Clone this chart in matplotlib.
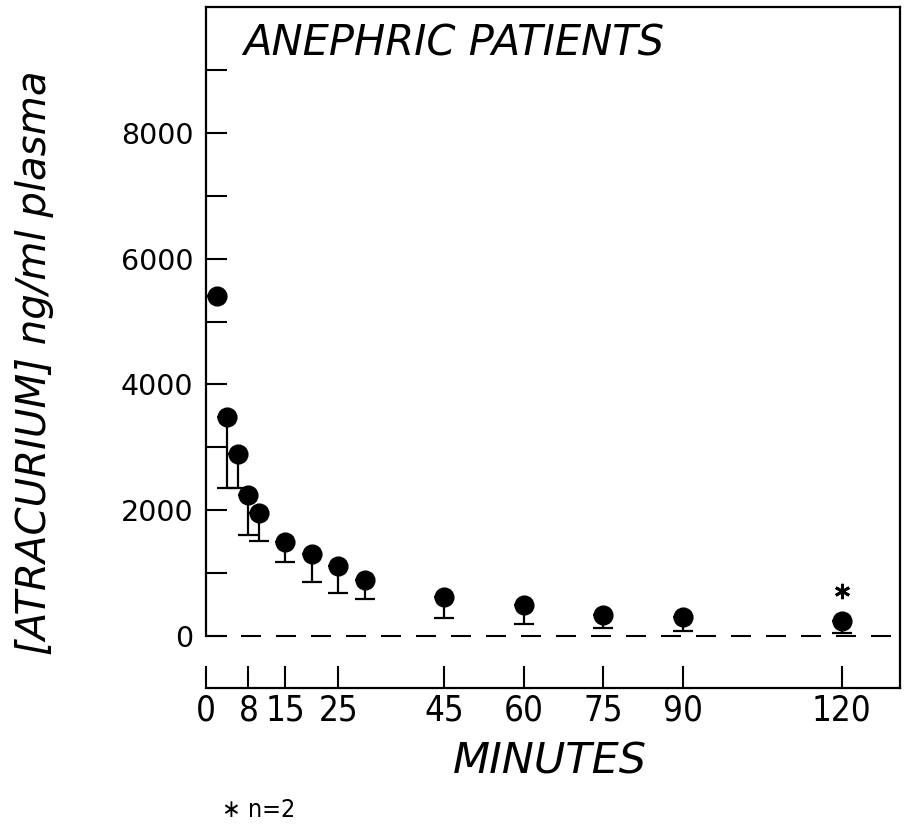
import matplotlib
matplotlib.use("Agg")
import matplotlib.pyplot as plt

# data
minutes = [2, 4, 6, 8, 10, 15, 20, 25, 30, 45, 60, 75, 90, 120]
conc_mean = [5400, 3480, 2900, 2240, 1950, 1500, 1300, 1110, 890, 620, 490, 330, 300, 240]
conc_low = [5400, 2350, 2350, 1600, 1510, 1170, 860, 680, 590, 290, 190, 130, 80, 50]
n2_points = [120]
n2_marks = [715]

xticks = [0, 8, 15, 25, 45, 60, 75, 90, 120]
yticks = [0, 1000, 2000, 3000, 4000, 5000, 6000, 7000, 8000, 9000]
ytick_labels = ["0", "", "2000", "", "4000", "", "6000", "", "8000", ""]

W, H = 906, 834
fig = plt.figure(figsize=(W / 100, H / 100), dpi=100)
ax = fig.add_axes([206 / W, 146 / H, 694 / W, 681 / H])

err_low = [m - l for m, l in zip(conc_mean, conc_low)]
err_up = [0] * len(conc_mean)
ax.errorbar(minutes, conc_mean, yerr=[err_low, err_up], fmt="o", color="black",
            ms=13.5, elinewidth=1.6, capsize=7, capthick=1.6, zorder=3)

ax.plot(n2_points, n2_marks, ls="none", marker=(6, 2, 0), ms=11, mew=2, color="black")

# zero reference line
ax.axhline(0, color="black", lw=1.5, dashes=(9.6, 7.2), zorder=1)

ax.set_xlim(0, 131)
ax.set_ylim(-825, 10000)

for side in ax.spines.values():
    side.set_linewidth(1.6)
ax.spines["left"].set_bounds(0, 10000)

ax.set_xticks(xticks)
ax.set_xticklabels([str(t) for t in xticks], family=["DejaVu Sans"], stretch="condensed",
                   fontsize=25)
ax.set_yticks(yticks)
ax.set_yticklabels(ytick_labels, fontsize=20.5)
ax.tick_params(axis="x", direction="in", length=16, width=1.5, pad=4)
ax.tick_params(axis="y", direction="in", length=15, width=1.5, pad=9)

fig.text(243 / W, 1 - 43 / H, "ANEPHRIC PATIENTS", fontsize=30, style="italic",
         ha="left", va="center")
fig.text(550 / W, 1 - 762 / H, "MINUTES", fontsize=31, style="italic",
         ha="center", va="center")
fig.text(35 / W, 1 - 363 / H, "[ATRACURIUM] ng/ml plasma", fontsize=29, style="italic",
         rotation=90, ha="center", va="center")
fig.text(222 / W, 1 - 810 / H, "\u2217 n=2", fontsize=18, ha="left", va="center",
         family=["DejaVu Sans"], stretch="condensed")

fig.savefig("out.png", dpi=100)
